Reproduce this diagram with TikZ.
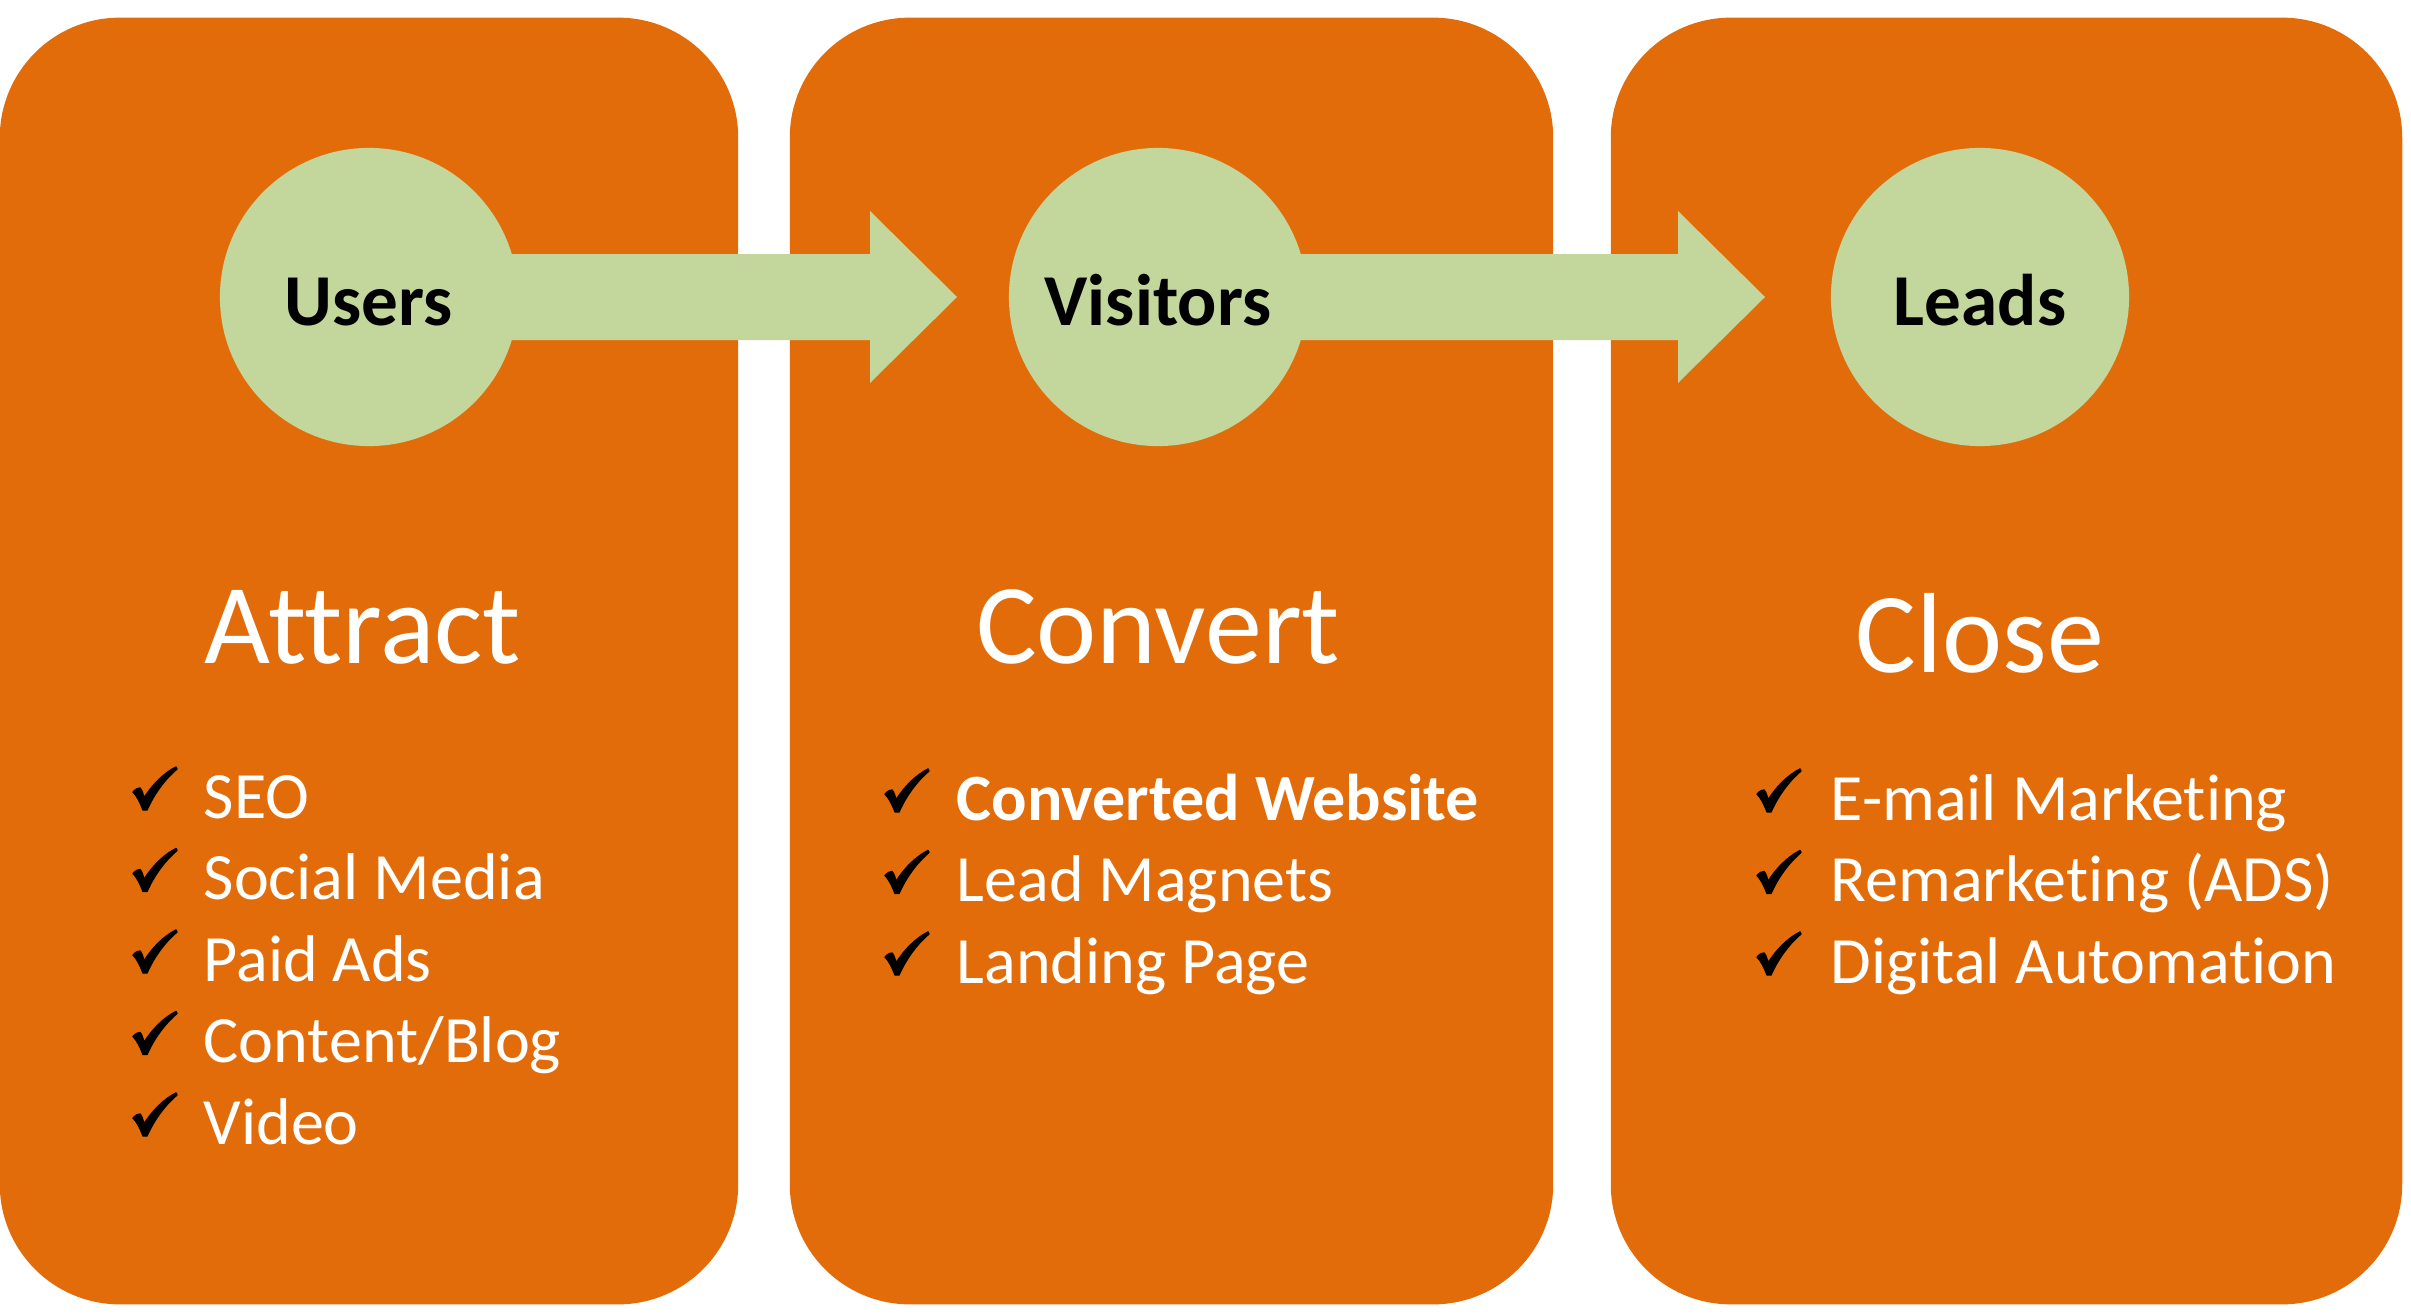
\documentclass[tikz,border=0pt]{standalone}
\usepackage{fontspec}
\setmainfont{Carlito}[RawFeature={-liga;-clig;-calt;-dlig;-hlig}]
\usetikzlibrary{calc}
\definecolor{stageorange}{HTML}{E36C0A}
\definecolor{stagegreen}{HTML}{C3D69B}
\tikzset{
  stage/.style={
    fill=stageorange,
    rectangle,
    rounded corners=1.2cm,
    inner sep=0pt
  },
  people/.style={
    circle,
    fill=stagegreen,
    minimum size=2.98cm,
    inner sep=0pt,
    text height=16pt,
    text depth=0pt,
    font=\fontsize{20.8}{25}\selectfont\bfseries
  },
  flow/.style={
    fill=stagegreen
  },
  title/.style={
    text=white,
    anchor=base,
    inner sep=0pt,
    font=\fontsize{32.4}{39}\selectfont
  },
  item/.style={
    text=white,
    anchor=base west,
    inner sep=0pt,
    font=\fontsize{18.8}{23}\selectfont
  },
  pics/checkmark/.style={
    code={
      \filldraw[line width=0.4pt, line join=round] (1,25) .. controls (4,22) and (6,21) .. (8,21)
        .. controls (10,23) and (11,27) .. (12,31)
        .. controls (20,18) and (32,6) .. (44,0) -- (45,2)
        .. controls (33,12) and (22,27) .. (15,43) -- (11,43)
        .. controls (8,35) and (5,29) .. (1,25) -- cycle;
    }
  }
}

\begin{document}
\begin{tikzpicture}[x=0.01cm, y=-0.01cm]
\useasboundingbox (0,0) rectangle (2411,1315);

% stage boxes
\node[stage, minimum width=7.38cm, minimum height=12.86cm] (attractbox) at (369,661) {};
\node[stage, minimum width=7.63cm, minimum height=12.86cm] (convertbox) at (1171.5,661) {};
\node[stage, minimum width=7.91cm, minimum height=12.86cm] (closebox) at (2006.5,661) {};

% people circles
\node[people] (users) at (369,297) {Users};
\node[people] (visitors) at (1158,297) {Visitors};
\node[people] (leads) at (1980,297) {Leads};

% block arrows
\coordinate (tip1) at (957,297);
\coordinate (tip2) at (1765,297);
\fill[flow] ($(users.east)+(-12,-43)$) -- ($(tip1)+(-87,-43)$) -- ($(tip1)+(-87,-86)$)
  -- (tip1) -- ($(tip1)+(-87,86)$) -- ($(tip1)+(-87,43)$) -- ($(users.east)+(-12,43)$) -- cycle;
\fill[flow] ($(visitors.east)+(-12,-43)$) -- ($(tip2)+(-87,-43)$) -- ($(tip2)+(-87,-86)$)
  -- (tip2) -- ($(tip2)+(-87,86)$) -- ($(tip2)+(-87,43)$) -- ($(visitors.east)+(-12,43)$) -- cycle;

% titles
\node[title] (attract) at (363,663) {Attract};
\node[title] (convert) at (1158,663) {Convert};
\node[title] (close) at (1980,672) {Close};

% attract list
\foreach \txt [count=\i from 0] in {SEO, Social Media, Paid Ads, Content/Blog, Video} {
  \pic at (132,{767+81.5*\i}) {checkmark};
  \node[item] (attract-\i) at (203,{818+81.5*\i}) {\txt};
}

% convert list
\foreach \txt [count=\i from 0] in {\textbf{Converted Website}, Lead Magnets, Landing Page} {
  \pic at (884,{769+81.5*\i}) {checkmark};
  \node[item] (convert-\i) at (956,{820+81.5*\i}) {\txt};
}

% close list
\foreach \txt [count=\i from 0] in {E-mail Marketing, Remarketing (ADS), Digital Automation} {
  \pic at (1756,{769+81.5*\i}) {checkmark};
  \node[item] (close-\i) at (1830,{820+81.5*\i}) {\txt};
}

\end{tikzpicture}
\end{document}
